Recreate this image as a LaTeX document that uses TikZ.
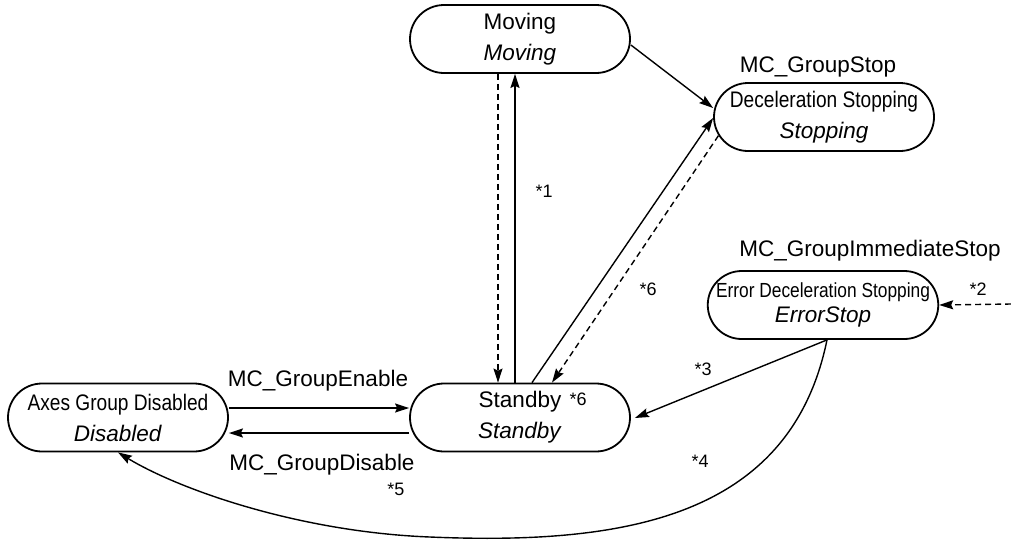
\documentclass[tikz,border=0pt]{standalone}
\usepackage{fontspec}
\setmainfont{Liberation Sans}
\newfontfamily\condf{Liberation Sans}[FakeStretch=0.85]
\usetikzlibrary{shapes.misc,arrows.meta}
\tikzset{
  statebox/.style={rounded rectangle, draw, line width=1.8pt, minimum width=220pt,
    minimum height=68pt, inner sep=0pt, align=center,
    font=\fontsize{22.5}{31}\selectfont},
  conn/.style={line width=1.4pt, -{Stealth[length=14pt,width=9pt,inset=2pt]}},
  dconn/.style={conn, dash pattern=on 6pt off 4pt},
  lbl/.style={anchor=base, inner sep=0pt, font=\fontsize{22.5}{27}\selectfont},
  star/.style={anchor=base, inner sep=0pt, font=\fontsize{18}{20}\selectfont},
}
\begin{document}
\begin{tikzpicture}[x=1pt,y=-1pt]
\useasboundingbox (0,0) rectangle (1011,539);
% states
\node[statebox] (Moving) at (520,39) {Moving\\\textit{Moving}};
\node[statebox] (Stopping) at (824,117) {{\condf Deceleration Stopping}\\\textit{Stopping}};
\node[statebox, font=\fontsize{22.5}{25}\selectfont] (Error) at (823,305)
  {{\condf\fontsize{20.4}{25}\selectfont Error Deceleration Stopping}\\\textit{ErrorStop}};
\node[statebox] (Standby) at (520,417.5) {Standby\\\textit{Standby}};
\node[statebox] (Disabled) at (118,417.5) {{\condf Axes Group Disabled}\\\textit{Disabled}};
% labels
\node[lbl] (lstop) at (818,72) {MC\_GroupStop};
\node[lbl] (limm) at (870,256) {MC\_GroupImmediateStop};
\node[lbl] (len) at (318,386) {MC\_GroupEnable};
\node[lbl] (ldis) at (322,470) {MC\_GroupDisable};
\node[star] (s1) at (544,197) {*1};
\node[star] (s6a) at (648,295) {*6};
\node[star] (s2) at (978,295) {*2};
\node[star] (s3) at (703,375) {*3};
\node[star] (s4) at (700,467) {*4};
\node[star] (s5) at (396,495) {*5};
\node[star] (s6b) at (578,405) {*6};
% connectors
\draw[dconn] ([xshift=-22pt]Moving.south) -- ([xshift=-22pt]Moving.south |- Standby.north);
\draw[conn] ([xshift=-5pt]Standby.north) -- ([xshift=-5pt]Standby.north |- Moving.south);
\draw[conn] ([yshift=-6pt]Moving.east) -- ([yshift=9pt]Stopping.west);
\draw[conn] ([xshift=12pt]Standby.north) -- ([yshift=-1pt]Stopping.west);
\draw[dconn] (Stopping.190) -- ([xshift=32pt]Standby.north);
\coordinate (r2) at (1011,304);
\draw[dconn] (r2) -- (Error.east);
\draw[conn] ([xshift=4pt]Error.south) -- ([xshift=4pt,yshift=-0.5pt]Standby.east);
\draw[conn] ([xshift=4pt]Error.south) .. controls (790,520) and (620,545) .. (430,537)
  .. controls (300,532) and (180,490) .. (Disabled.south);
\draw[conn] ([yshift=9.5pt]Disabled.east) -- ([yshift=9.5pt]Standby.west);
\draw[conn] ([yshift=-15.5pt]Standby.west) -- ([yshift=-15.5pt]Disabled.east);
\end{tikzpicture}
\end{document}
